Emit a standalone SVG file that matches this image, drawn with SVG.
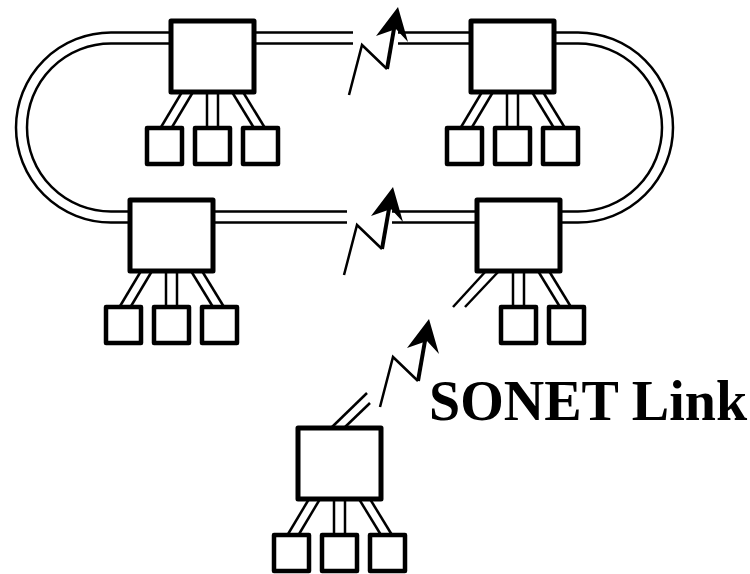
<svg xmlns="http://www.w3.org/2000/svg" width="750" height="574" viewBox="0 0 750 574">
<style>
.rail{fill:none;stroke:#000;stroke-width:2.5}
.tap{fill:none;stroke:#000;stroke-width:2.5}
.big{fill:#fff;stroke:#000;stroke-width:5;stroke-linejoin:round}
.small{fill:#fff;stroke:#000;stroke-width:4.5;stroke-linejoin:round}
.zig{fill:none;stroke:#000;stroke-width:2.5}
.shaft{fill:none;stroke:#000;stroke-width:4}
.label{font-family:"Liberation Serif","Times New Roman",serif;font-weight:bold;font-size:56px;fill:#000}
</style>
<defs>
<g id="bolt">
<polyline class="zig" points="-49,88 -36,38 -11,62"/>
<line class="shaft" x1="-11" y1="62" x2="-3" y2="16"/>
<polygon points="0,0 10,35 -2,22 -22,29" fill="#000"/>
</g>
</defs>
<rect width="750" height="574" fill="#fff"/>
<g id="connectors">
<path class="rail" d="M353,32.5 H111 A95,95 0 0 0 111,222.5 H347"/>
<path class="rail" d="M353,43.5 H111 A84,84 0 0 0 111,211.5 H347"/>
<path class="rail" d="M398,32.5 H578 A95,95 0 0 1 578,222.5 H392"/>
<path class="rail" d="M398,43.5 H578 A84,84 0 0 1 578,211.5 H392"/>
<use href="#bolt" transform="translate(398,7)"/>
<use href="#bolt" transform="translate(393,187)"/>
<use href="#bolt" transform="translate(429,319)"/>
<line class="tap" x1="182" y1="92" x2="160.5" y2="128"/>
<line class="tap" x1="193" y1="92" x2="171.5" y2="128"/>
<line class="tap" x1="207" y1="92" x2="207" y2="128"/>
<line class="tap" x1="218" y1="92" x2="218" y2="128"/>
<line class="tap" x1="232" y1="92" x2="254" y2="128"/>
<line class="tap" x1="243" y1="92" x2="265" y2="128"/>
<line class="tap" x1="482" y1="92" x2="460.5" y2="128"/>
<line class="tap" x1="493" y1="92" x2="471.5" y2="128"/>
<line class="tap" x1="507" y1="92" x2="507" y2="128"/>
<line class="tap" x1="518" y1="92" x2="518" y2="128"/>
<line class="tap" x1="532" y1="92" x2="554" y2="128"/>
<line class="tap" x1="543" y1="92" x2="565" y2="128"/>
<line class="tap" x1="141" y1="271" x2="119.5" y2="307"/>
<line class="tap" x1="152" y1="271" x2="130.5" y2="307"/>
<line class="tap" x1="166" y1="271" x2="166" y2="307"/>
<line class="tap" x1="177" y1="271" x2="177" y2="307"/>
<line class="tap" x1="191" y1="271" x2="213" y2="307"/>
<line class="tap" x1="202" y1="271" x2="224" y2="307"/>
<line class="tap" x1="486" y1="271" x2="453" y2="307"/>
<line class="tap" x1="499" y1="271" x2="465" y2="307"/>
<line class="tap" x1="513" y1="271" x2="513" y2="307"/>
<line class="tap" x1="524" y1="271" x2="524" y2="307"/>
<line class="tap" x1="538" y1="271" x2="560" y2="307"/>
<line class="tap" x1="549" y1="271" x2="571" y2="307"/>
<line class="tap" x1="331" y1="428" x2="367" y2="393"/>
<line class="tap" x1="344" y1="428" x2="370" y2="403"/>
<line class="tap" x1="309" y1="499" x2="287.5" y2="535"/>
<line class="tap" x1="320" y1="499" x2="298.5" y2="535"/>
<line class="tap" x1="334" y1="499" x2="334" y2="535"/>
<line class="tap" x1="345" y1="499" x2="345" y2="535"/>
<line class="tap" x1="359" y1="499" x2="381" y2="535"/>
<line class="tap" x1="370" y1="499" x2="392" y2="535"/>
</g>
<g id="nodeA"><rect class="big" x="171" y="21" width="83" height="71"/></g>
<g id="nodeA-h1"><rect class="small" x="147" y="128" width="35" height="36"/></g>
<g id="nodeA-h2"><rect class="small" x="195" y="128" width="35" height="36"/></g>
<g id="nodeA-h3"><rect class="small" x="243" y="128" width="35" height="36"/></g>
<g id="nodeB"><rect class="big" x="471" y="21" width="83" height="71"/></g>
<g id="nodeB-h1"><rect class="small" x="447" y="128" width="35" height="36"/></g>
<g id="nodeB-h2"><rect class="small" x="495" y="128" width="35" height="36"/></g>
<g id="nodeB-h3"><rect class="small" x="543" y="128" width="35" height="36"/></g>
<g id="nodeC"><rect class="big" x="130" y="200" width="83" height="71"/></g>
<g id="nodeC-h1"><rect class="small" x="106" y="307" width="35" height="36"/></g>
<g id="nodeC-h2"><rect class="small" x="154" y="307" width="35" height="36"/></g>
<g id="nodeC-h3"><rect class="small" x="202" y="307" width="35" height="36"/></g>
<g id="nodeD"><rect class="big" x="477" y="200" width="83" height="71"/></g>
<g id="nodeD-h2"><rect class="small" x="501" y="307" width="35" height="36"/></g>
<g id="nodeD-h3"><rect class="small" x="549" y="307" width="35" height="36"/></g>
<g id="nodeE"><rect class="big" x="298" y="428" width="83" height="71"/></g>
<g id="nodeE-h1"><rect class="small" x="274" y="535" width="35" height="36"/></g>
<g id="nodeE-h2"><rect class="small" x="322" y="535" width="35" height="36"/></g>
<g id="nodeE-h3"><rect class="small" x="370" y="535" width="35" height="36"/></g>
<text class="label" x="429" y="420">SONET Link</text>
</svg>
